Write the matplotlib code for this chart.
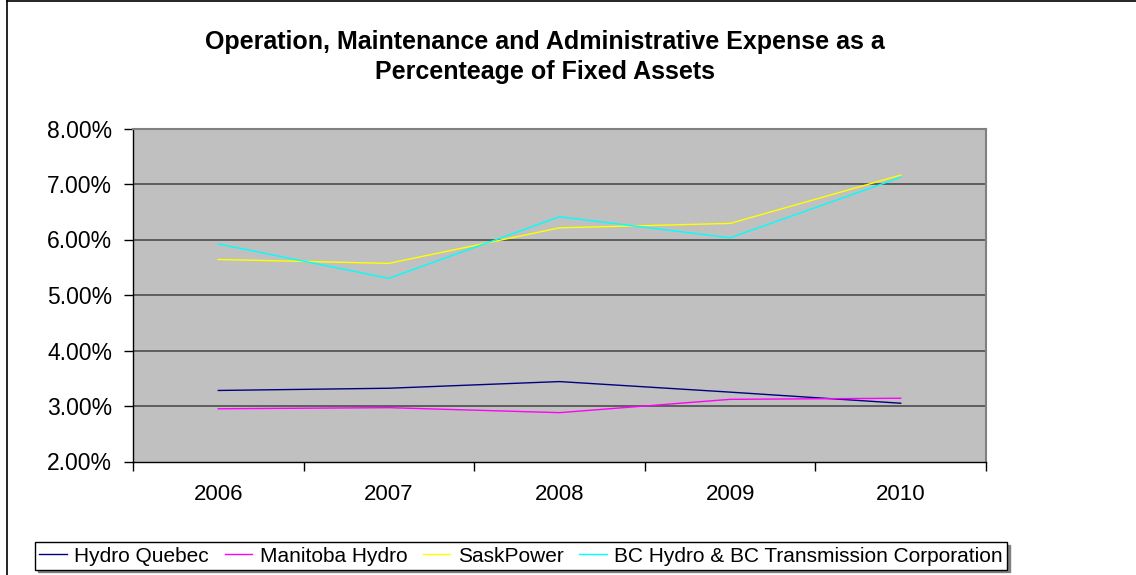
import matplotlib.pyplot as plt
from matplotlib.ticker import FuncFormatter, FixedLocator
from matplotlib.lines import Line2D

plt.rcParams['font.family'] = ['Liberation Sans', 'DejaVu Sans']

# data (percent)
years = ["2006", "2007", "2008", "2009", "2010"]
hydro_quebec = [3.28, 3.32, 3.44, 3.25, 3.05]
manitoba_hydro = [2.95, 2.97, 2.88, 3.12, 3.14]
sask_power = [5.64, 5.57, 6.21, 6.29, 7.16]
bc_hydro = [5.92, 5.30, 6.41, 6.03, 7.12]

series_names = ["Hydro Quebec", "Manitoba Hydro", "SaskPower",
                "BC Hydro & BC Transmission Corporation"]
series_colors = ["#000080", "#FF00FF", "#FFFF00", "#00FFFF"]
y_ticks = [2, 3, 4, 5, 6, 7, 8]

fig = plt.figure(figsize=(11.36, 5.75), dpi=100)
ax = fig.add_axes([133 / 1136, 1 - 461.5 / 575, 853 / 1136, 333 / 575])
ax.set_facecolor("#C0C0C0")

x = list(range(len(years)))
for vals, name, col in zip([hydro_quebec, manitoba_hydro, sask_power, bc_hydro],
                           series_names, series_colors):
    ax.plot(x, vals, color=col, lw=1.0, label=name, zorder=3)

ax.set_xlim(-0.5, len(years) - 0.5)
ax.set_ylim(2, 8)
ax.set_yticks(y_ticks)
ax.yaxis.set_major_formatter(FuncFormatter(lambda v, p: f"{v:.2f}%"))
for v in y_ticks[1:-1]:
    ax.axhline(v, color="#4D4D4D", lw=1.2, zorder=1)

# category boundaries get the tick marks, centres get the labels
ax.xaxis.set_major_locator(FixedLocator([i - 0.5 for i in range(len(years) + 1)]))
ax.xaxis.set_major_formatter(FuncFormatter(lambda v, p: ""))
ax.xaxis.set_minor_locator(FixedLocator(x))
ax.set_xticklabels(years, minor=True)
ax.tick_params(axis="x", which="major", length=6.5, width=1, color="black")
ax.tick_params(axis="x", which="minor", length=0, pad=16, labelsize=16)
ax.tick_params(axis="y", length=6.5, width=1, pad=8.5, labelsize=16.5)

for s in ["left", "bottom"]:
    ax.spines[s].set_color("black")
    ax.spines[s].set_linewidth(1.0)
for s in ["top", "right"]:
    ax.spines[s].set_color("#808080")
    ax.spines[s].set_linewidth(1.5)

fig.text(545 / 1136, 1 - 57 / 575,
         "Operation, Maintenance and Administrative Expense as a\nPercenteage of Fixed Assets",
         ha="center", va="center", fontsize=18, fontweight="bold", linespacing=1.3)

# chart area border
fig.add_artist(Line2D([7 / 1136, 7 / 1136], [0, 1 - 1 / 575], color="black", lw=1.2,
                      transform=fig.transFigure))
fig.add_artist(Line2D([7 / 1136, 1], [1 - 1 / 575, 1 - 1 / 575], color="black", lw=1.2,
                      transform=fig.transFigure))

leg = fig.legend(loc="center", bbox_to_anchor=(521 / 1136, 1 - 556 / 575), ncol=4,
                 fontsize=15, frameon=True, fancybox=False,
                 shadow={"color": "#808080", "alpha": 1},
                 handlelength=1.33, handletextpad=0.35, columnspacing=0.75,
                 borderpad=0.2, borderaxespad=0)
leg.get_frame().set_edgecolor("black")
leg.get_frame().set_linewidth(1.0)

fig.savefig("out.png", dpi=100)
